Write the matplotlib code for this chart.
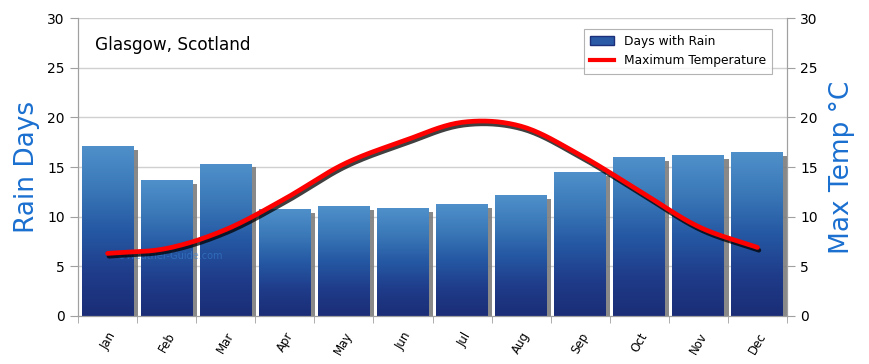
import numpy as np
import matplotlib
matplotlib.use("Agg")
import matplotlib.pyplot as plt
import matplotlib.patheffects as pe
from matplotlib.colors import LinearSegmentedColormap
from matplotlib.patches import Rectangle
from matplotlib.lines import Line2D

months = ["Jan", "Feb", "Mar", "Apr", "May", "Jun", "Jul", "Aug", "Sep", "Oct", "Nov", "Dec"]
rain_days = [17.1, 13.6, 15.3, 10.7, 11.0, 10.8, 11.2, 12.1, 14.4, 16.0, 16.2, 16.5]
max_temp = [6.3, 6.8, 8.7, 11.8, 15.3, 17.6, 19.5, 19.1, 16.2, 12.6, 9.0, 6.9]

def catmull(xs, ys, n=20):
    xs = np.asarray(xs, float); ys = np.asarray(ys, float)
    px = np.concatenate([[2*xs[0]-xs[1]], xs, [2*xs[-1]-xs[-2]]])
    py = np.concatenate([[2*ys[0]-ys[1]], ys, [2*ys[-1]-ys[-2]]])
    ox, oy = [], []
    for i in range(1, len(px)-2):
        t = np.linspace(0, 1, n, endpoint=False)
        for arr, out in ((px, ox), (py, oy)):
            p0, p1, p2, p3 = arr[i-1], arr[i], arr[i+1], arr[i+2]
            out.extend(0.5*((2*p1) + (-p0+p2)*t + (2*p0-5*p1+4*p2-p3)*t**2 + (-p0+3*p1-3*p2+p3)*t**3))
    ox.append(xs[-1]); oy.append(ys[-1])
    return np.array(ox), np.array(oy)

fig = plt.figure(figsize=(8.7, 3.64), dpi=100)
ax = fig.add_axes([0.0897, 0.1319, 0.8149, 0.8186])
x = np.arange(len(months))
ax.set_xlim(-0.5, len(months)-0.5)
ax.set_ylim(0, 30)

for y in range(5, 31, 5):
    ax.axhline(y, color="#d0d0d0", lw=1, zorder=0)

cmap = LinearSegmentedColormap.from_list("b", ["#1b2d76", "#1f3c8a", "#2558a3", "#3a78b8", "#4f90ca"])
grad = np.linspace(0, 1, 256).reshape(-1, 1)
w = 0.88
for xi, h in zip(x, rain_days):
    sh = Rectangle((xi - w/2 + 0.07, 0), w, h - 0.35, facecolor="#7c7c7c", alpha=0.9, edgecolor="none", zorder=1)
    ax.add_patch(sh)
    ax.imshow(grad, extent=(xi - w/2, xi + w/2, 0, h), origin="lower", cmap=cmap,
              vmin=0, vmax=1, aspect="auto", zorder=2)
ax.set_aspect("auto")

ax2 = ax.twinx()
ax2.set_ylim(0, 30)
sx, sy = catmull(x, max_temp)
ax2.plot(sx, sy, color="red", lw=3.4, solid_capstyle="round",
         path_effects=[pe.SimpleLineShadow(offset=(1, -2), shadow_color="black", alpha=0.75),
                       pe.Normal()], zorder=5)

ax.text(0.024, 0.91, "Glasgow, Scotland", transform=ax.transAxes, fontsize=12.2, va="center", ha="left", zorder=10)
ax.text(0.055, 0.19, "©Weather-Guide.com", transform=ax.transAxes, fontsize=7, color="#3a7fd0", alpha=0.6, zorder=4)

handles = [Rectangle((0, 0), 1, 1, facecolor="#2a5aa5", edgecolor="#1b2f7a"),
           Line2D([], [], color="red", lw=3)]
leg = ax2.legend(handles, ["Days with Rain", "Maximum Temperature"], loc="upper right",
                 bbox_to_anchor=(0.988, 0.985), fontsize=8.8, frameon=True, fancybox=False,
                 edgecolor="#a0a0a0", borderpad=0.5, handlelength=2.0, labelspacing=0.55)
leg.get_frame().set_linewidth(0.8)

ax.set_xticks(x)
ax.set_xticklabels(months, rotation=60, ha="right", fontsize=8.5, rotation_mode="anchor")
ax.set_xticks(np.arange(-0.5, len(months), 1), minor=True)
ax.tick_params(axis="x", which="major", length=0, pad=10)
ax.tick_params(axis="x", which="minor", length=5, color="#a0a0a0")
ax.set_yticks(range(0, 31, 5))
ax.tick_params(axis="y", length=6, color="#a0a0a0", labelsize=10)
ax2.set_yticks(range(0, 31, 5))
ax2.tick_params(axis="y", length=6, color="#a0a0a0", labelsize=10)

for a in (ax, ax2):
    for s in a.spines.values():
        s.set_color("#a0a0a0")
    a.spines["top"].set_visible(False)

ax.set_ylabel("Rain Days", color="#1a6fd0", fontsize=19, labelpad=5)
ax2.set_ylabel("Max Temp °C", color="#1a6fd0", fontsize=19, rotation=90, labelpad=8)

fig.savefig("out.png", dpi=100)
